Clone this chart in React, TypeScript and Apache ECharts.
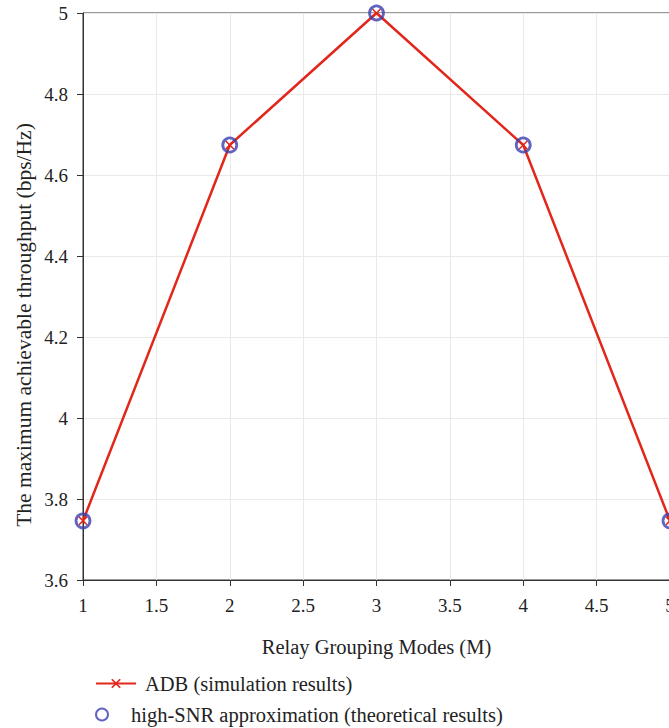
import React, { useEffect, useRef } from "react";
import * as echarts from "echarts";

// Relay grouping modes (M) and the resulting maximum achievable throughput (bps/Hz)
const modes = [1, 2, 3, 4, 5];
const adbSimulation = [3.746, 4.674, 5.0, 4.674, 3.746];
const highSnrApprox = [3.746, 4.674, 5.0, 4.674, 3.746];

const SIM_NAME = "ADB (simulation results)";
const APPROX_NAME = "high-SNR approximation (theoretical results)";
const Y_TITLE = "The maximum achievable throughput (bps/Hz)";
const X_TITLE = "Relay Grouping Modes (M)";

const FONT = "Liberation Serif";
const RED = "#e3261c";
const BLUE = "#3b3fb0";
const CROSS =
  "path://M0,1.2L1.2,0L5,3.8L8.8,0L10,1.2L6.2,5L10,8.8L8.8,10L5,6.2L1.2,10L0,8.8L3.8,5Z";

const legendBase = {
  orient: "horizontal",
  left: 90,
  itemWidth: 40,
  itemHeight: 12,
  textStyle: { fontFamily: FONT, fontSize: 20.5, color: "#222", padding: [0, 0, 0, 4] },
};

const App: React.FC = () => {
  const ref = useRef<HTMLDivElement>(null);

  useEffect(() => {
    document.body.style.margin = "0";
    document.body.style.overflow = "hidden";
    if (!ref.current) return;
    const chart = echarts.init(ref.current, undefined, { renderer: "svg" });
    chart.setOption({
      animation: false,
      backgroundColor: "#ffffff",
      textStyle: { fontFamily: FONT, color: "#222" },
      grid: {
        left: 83,
        top: 13,
        width: 587,
        height: 567,
        outerBoundsMode: "none",
        containLabel: false,
        show: true,
        borderColor: "#333",
        borderWidth: 1,
      },
      graphic: [
        {
          type: "text",
          x: 24,
          y: 325,
          rotation: Math.PI / 2,
          style: {
            text: Y_TITLE,
            fontFamily: FONT,
            fontSize: 21.5,
            fill: "#222",
            align: "center",
            verticalAlign: "middle",
          },
        },
      ],
      xAxis: {
        type: "value",
        min: 1,
        max: 5,
        interval: 0.5,
        name: X_TITLE,
        nameLocation: "middle",
        nameGap: 56,
        nameTextStyle: { fontFamily: FONT, fontSize: 20.5, color: "#222" },
        axisLine: { show: true, lineStyle: { color: "#333", width: 1 } },
        axisTick: { show: true, length: 6, lineStyle: { color: "#333" } },
        axisLabel: {
          fontFamily: FONT,
          fontSize: 19,
          color: "#222",
          margin: 16,
          showMaxLabel: true,
          hideOverlap: false,
        },
        splitLine: { show: true, lineStyle: { color: "#e9e9e9", width: 1 } },
      },
      yAxis: {
        type: "value",
        min: 3.6,
        max: 5,
        interval: 0.2,
        axisLine: { show: true, lineStyle: { color: "#333", width: 1 } },
        axisTick: { show: true, length: 6, lineStyle: { color: "#333" } },
        axisLabel: { fontFamily: FONT, fontSize: 19, color: "#222", margin: 15 },
        splitLine: { show: true, lineStyle: { color: "#e9e9e9", width: 1 } },
      },
      legend: [
        { ...legendBase, top: 668, data: [SIM_NAME] },
        { ...legendBase, top: 699, data: [APPROX_NAME] },
      ],
      series: [
        {
          name: SIM_NAME,
          type: "line",
          data: modes.map((m, i) => [m, adbSimulation[i]]),
          lineStyle: { color: RED, width: 2.5 },
          itemStyle: { color: RED },
          symbol: CROSS,
          symbolSize: 9,
          showSymbol: true,
          z: 2,
        },
        {
          name: APPROX_NAME,
          type: "scatter",
          data: modes.map((m, i) => [m, highSnrApprox[i]]),
          symbol: "circle",
          symbolSize: 14,
          itemStyle: { color: "rgba(0,0,0,0)", borderColor: BLUE, borderWidth: 2.8 },
          z: 3,
        },
      ],
    });
    return () => chart.dispose();
  }, []);

  return <div ref={ref} style={{ width: 669, height: 728 }} />;
};

export default App;
